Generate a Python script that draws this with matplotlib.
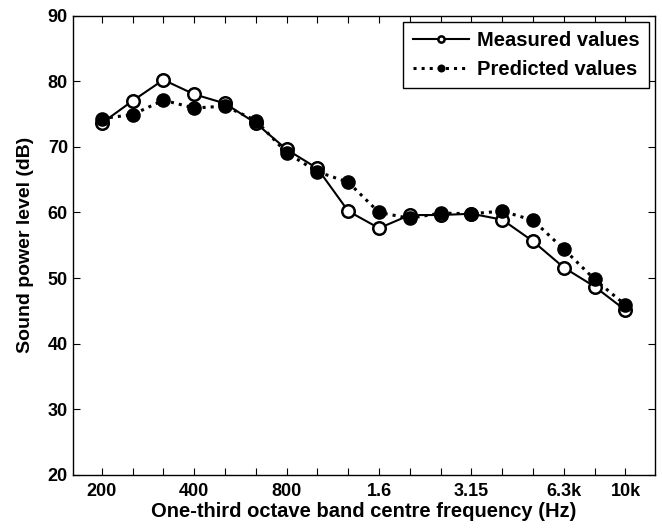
import matplotlib.pyplot as plt
import numpy as np

plt.rcParams['font.family'] = ['Liberation Sans', 'DejaVu Sans']
plt.rcParams['font.weight'] = 'bold'

# one-third octave bands, 200 Hz .. 10 kHz
bands = ["200", "250", "315", "400", "500", "630", "800", "1000", "1250",
         "1600", "2000", "2500", "3150", "4000", "5000", "6300", "8000", "10000"]
measured = [73.6, 77.0, 80.2, 78.0, 76.6, 73.6, 69.6, 66.7, 60.2, 57.6,
            59.6, 59.6, 59.8, 58.9, 55.6, 51.6, 48.7, 45.1]
predicted = [74.3, 74.9, 77.1, 75.9, 76.2, 74.0, 69.1, 66.2, 64.6, 60.0,
             59.1, 59.9, 59.8, 60.2, 58.8, 54.4, 49.8, 45.9]
shown = {"200": "200", "400": "400", "800": "800", "1600": "1.6",
         "3150": "3.15", "6300": "6.3k", "10000": "10k"}

x = np.arange(len(bands))

fig = plt.figure(figsize=(6.62, 5.31), dpi=100)
ax = fig.add_axes([0.11, 0.1055, 0.879, 0.8653])

ax.plot(x, measured, '-o', color='black', lw=1.5, ms=9, mfc='white',
        mec='black', mew=1.8, label='Measured values')
ax.plot(x, predicted, ':o', color='black', lw=2.2, ms=9.5, mfc='black',
        mec='black', label='Predicted values')

ax.set_xlim(-0.94, 17.95)
ax.set_ylim(20, 90)
ax.set_xticks(x)
ax.set_xticklabels([shown.get(b, "") for b in bands])
ax.set_yticks(range(20, 91, 10))
ax.tick_params(direction='in', top=True, right=True, labelsize=13, length=5)
ax.tick_params(axis='x', pad=6)
for s in ax.spines.values():
    s.set_linewidth(1.0)

ax.set_xlabel('One-third octave band centre frequency (Hz)', fontsize=14.5,
              fontweight='bold', labelpad=1)
ax.set_ylabel('Sound power level (dB)', fontsize=14, fontweight='bold',
              labelpad=10)

leg = ax.legend(loc='upper right', fontsize=14.5, fancybox=False,
                edgecolor='black', framealpha=1, handlelength=2.8,
                markerscale=0.5, borderaxespad=0.3, borderpad=0.45,
                labelspacing=0.5, handletextpad=0.4)
leg.get_frame().set_linewidth(1.0)

fig.savefig('out.png', dpi=100)
